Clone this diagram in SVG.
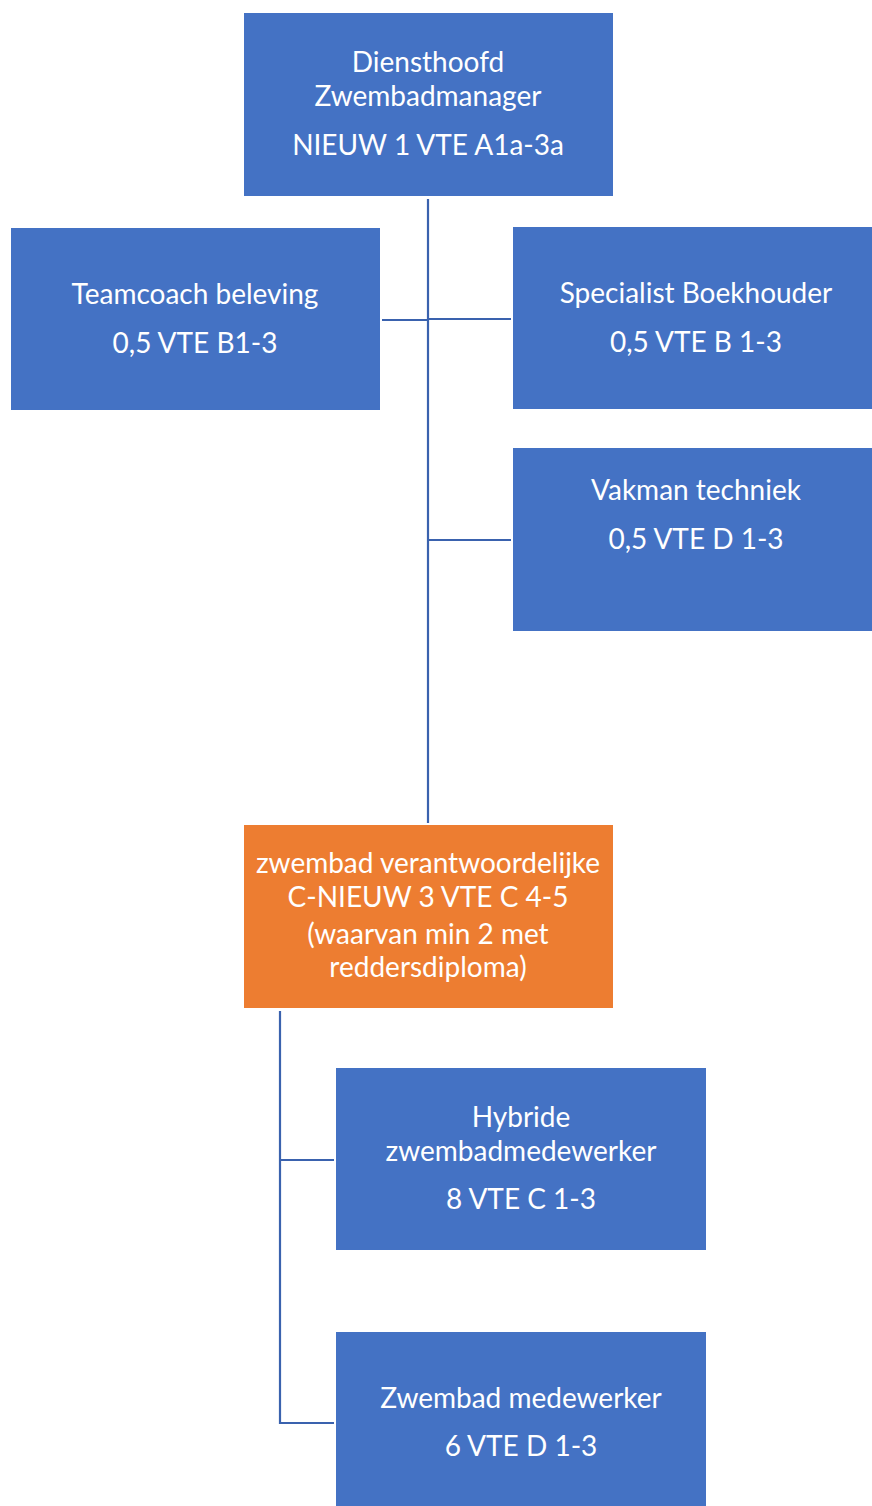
<svg xmlns="http://www.w3.org/2000/svg" width="872" height="1506" viewBox="0 0 872 1506">
<style>
.blue{fill:#4472C4}
.orange{fill:#ED7D31}
text{font-family:Lato,"Open Sans","Liberation Sans",sans-serif;font-size:28px;fill:#ffffff;text-anchor:middle}
.conn{stroke:#3A62AE;stroke-width:2.2;fill:none}
</style>
<rect width="872" height="1506" fill="#ffffff"/>
<g id="connectors">
<path class="conn" d="M428 199V823"/>
<path class="conn" d="M382 320H428"/>
<path class="conn" d="M428 319H511"/>
<path class="conn" d="M428 540H511"/>
<path class="conn" d="M280 1011V1423H334"/>
<path class="conn" d="M280 1160H334"/>
</g>
<g id="diensthoofd">
<rect class="blue" x="244" y="13" width="369" height="183"/>
<text x="428" y="72">Diensthoofd</text>
<text x="428" y="106">Zwembadmanager</text>
<text x="428" y="155">NIEUW 1 VTE A1a-3a</text>
</g>
<g id="teamcoach">
<rect class="blue" x="11" y="228" width="369" height="182"/>
<text x="195" y="304">Teamcoach beleving</text>
<text x="195" y="353">0,5 VTE B1-3</text>
</g>
<g id="specialist">
<rect class="blue" x="513" y="227" width="359" height="182"/>
<text x="696" y="303">Specialist Boekhouder</text>
<text x="696" y="352">0,5 VTE B 1-3</text>
</g>
<g id="vakman">
<rect class="blue" x="513" y="448" width="359" height="183"/>
<text x="696" y="500">Vakman techniek</text>
<text x="696" y="549">0,5 VTE D 1-3</text>
</g>
<g id="verantwoordelijke">
<rect class="orange" x="244" y="825" width="369" height="183"/>
<text x="428" y="873">zwembad verantwoordelijke</text>
<text x="428" y="907">C-NIEUW 3 VTE C 4-5</text>
<text x="428" y="944">(waarvan min 2 met</text>
<text x="428" y="977">reddersdiploma)</text>
</g>
<g id="hybride">
<rect class="blue" x="336" y="1068" width="370" height="182"/>
<text x="521" y="1127">Hybride</text>
<text x="521" y="1161">zwembadmedewerker</text>
<text x="521" y="1209">8 VTE C 1-3</text>
</g>
<g id="medewerker">
<rect class="blue" x="336" y="1332" width="370" height="174"/>
<text x="521" y="1408">Zwembad medewerker</text>
<text x="521" y="1456">6 VTE D 1-3</text>
</g>
</svg>
